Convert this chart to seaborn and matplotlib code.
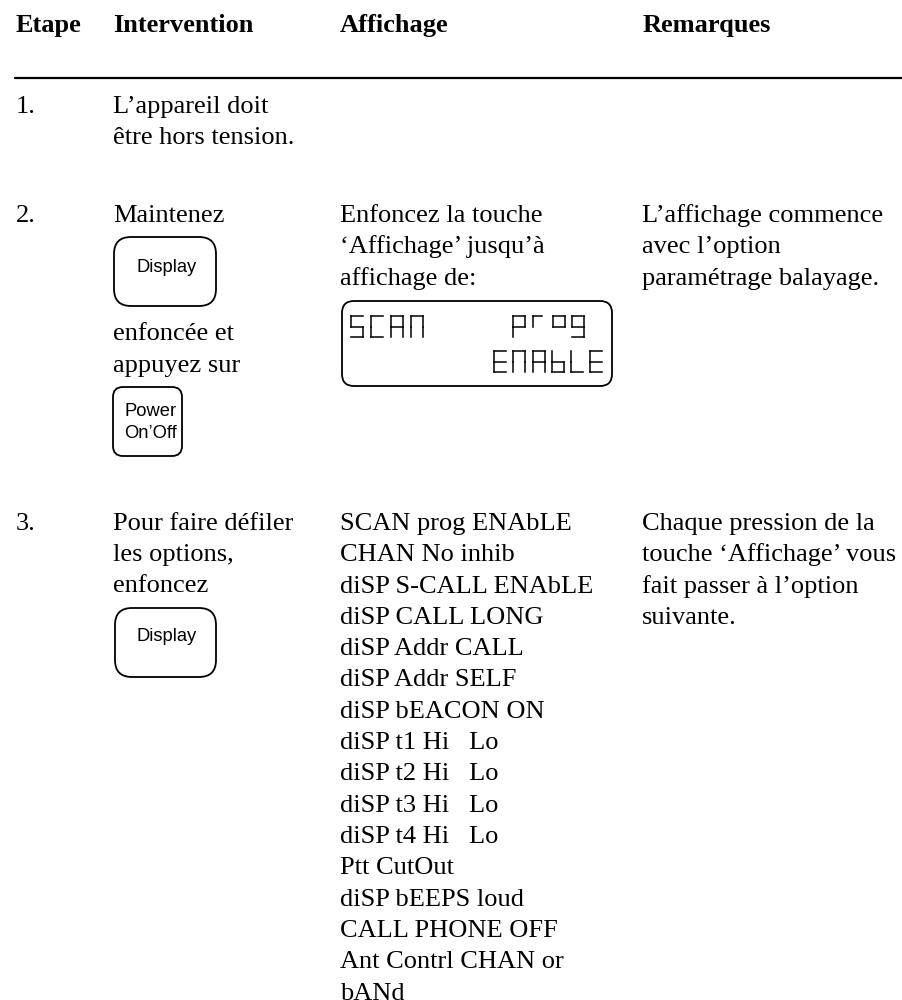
import seaborn as sns
import matplotlib.pyplot as plt
import pandas as pd
from matplotlib.patches import FancyBboxPatch

sns.set_theme(style="white")
plt.rcParams['font.family'] = ['Liberation Serif', 'DejaVu Serif']

# table text
headers = ["Etape", "Intervention", "Affichage", "Remarques"]
header_x = [16, 113, 340, 643]

steps = ["1.", "2.", "3."]
step_y = [113, 222, 530]

col_intervention = [
    ("L’appareil doit", 113), ("être hors tension.", 143.5),
    ("Maintenez", 222),
    ("enfoncée et", 340), ("appuyez sur", 372),
    ("Pour faire défiler", 530), ("les options,", 561), ("enfoncez", 592),
]
col_affichage_2 = ["Enfoncez la touche", "‘Affichage’ jusqu’à", "affichage de:"]
col_remarques_2 = ["L’affichage commence", "avec l’option", "paramétrage balayage."]
col_remarques_3 = ["Chaque pression de la", "touche ‘Affichage’ vous", "fait passer à l’option", "suivante."]
options = [
    "SCAN prog ENAbLE", "CHAN No inhib", "diSP S-CALL ENAbLE", "diSP CALL LONG",
    "diSP Addr CALL", "diSP Addr SELF", "diSP bEACON ON", "diSP t1 Hi   Lo",
    "diSP t2 Hi   Lo", "diSP t3 Hi   Lo", "diSP t4 Hi   Lo", "Ptt CutOut",
    "diSP bEEPS loud", "CALL PHONE OFF", "Ant Contrl CHAN or", "bANd",
]

# keys: left, top, right, bottom, corner radius
key_boxes = [
    (114, 237, 216, 306, 17),
    (113, 387, 182, 456, 10),
    (115, 608, 216, 677, 17),
]
# key labels: text, centre x, baseline y
key_labels = [
    ("Display", 166.5, 272),
    ("Power", 151, 416),
    ("On’Off", 150.5, 438),
    ("Display", 166.5, 641),
]

# LCD words: word, first glyph x, top, bottom, pitch
lcd_box = (342, 301, 612, 386, 12)
lcd_words = [
    ("SCAN", 351, 316, 337, 20),
    ("prog", 513, 316, 337, 19.8),
    ("ENAbLE", 494, 351, 372, 19.3),
]
lcd_w = 12

# segments of each LCD glyph, in a unit box (x, y going down)
SEG = {
    "a": [(0, 0), (1, 0)], "b": [(1, 0), (1, .5)], "c": [(1, .5), (1, 1)],
    "d": [(0, 1), (1, 1)], "e": [(0, .5), (0, 1)], "f": [(0, 0), (0, .5)],
    "g": [(0, .5), (1, .5)],
}
GLYPH = {
    "S": "afgcd", "C": "afed", "A": "abcefg", "N": "abcef", "p": "abfge",
    "r": "af", "o": "abfg", "g": "abfgcd", "E": "afged", "b": "fgcde", "L": "fed",
}

FS = 19
SANS = 13.2
LINE = 31.3

fig, ax = plt.subplots(figsize=(9.03, 10), dpi=100)
fig.subplots_adjust(0, 0, 1, 1)

rule = pd.DataFrame({"x": [15, 903], "y": [77.5, 77.5]})
sns.lineplot(data=rule, x="x", y="y", color="black", linewidth=1.6, ax=ax)
ax.set_xlim(0, 903)
ax.set_ylim(1000, 0)
ax.axis("off")

for h, x in zip(headers, header_x):
    ax.text(x, 32, h, fontsize=FS, fontweight="bold", color="black", va="baseline")
for s, y in zip(steps, step_y):
    ax.text(16, y, s, fontsize=FS, color="black", va="baseline")
for t, y in col_intervention:
    ax.text(113, y, t, fontsize=FS, color="black", va="baseline")
for i, t in enumerate(col_affichage_2):
    ax.text(340, 222 + i * LINE, t, fontsize=FS, color="black", va="baseline")
for i, t in enumerate(col_remarques_2):
    ax.text(642, 222 + i * LINE, t, fontsize=FS, color="black", va="baseline")
for i, t in enumerate(col_remarques_3):
    ax.text(642, 530 + i * LINE, t, fontsize=FS, color="black", va="baseline")
for i, t in enumerate(options):
    ax.text(340, 530 + i * LINE, t, fontsize=FS, color="black", va="baseline")


def rounded(x0, y0, x1, y1, r):
    ax.add_patch(FancyBboxPatch((x0, y0), x1 - x0, y1 - y0,
                                boxstyle=f"round,pad=0,rounding_size={r}",
                                fc="none", ec="black", lw=1.3))


for box in key_boxes:
    rounded(*box)
for lab, x, y in key_labels:
    ax.text(x, y, lab, family="Liberation Sans", fontsize=SANS, color="black",
            ha="center", va="baseline")

rounded(*lcd_box)
for word, x, top, bot, pitch in lcd_words:
    for k, ch in enumerate(word):
        gx = x + k * pitch
        w = lcd_w * 0.75 if ch == "r" else lcd_w
        for s in GLYPH[ch]:
            (ax0, ay0), (ax1, ay1) = SEG[s]
            ax.plot([gx + ax0 * w, gx + ax1 * w],
                    [top + ay0 * (bot - top), top + ay1 * (bot - top)],
                    color="black", lw=1.1, solid_capstyle="projecting")

plt.savefig("out.png", dpi=100)
